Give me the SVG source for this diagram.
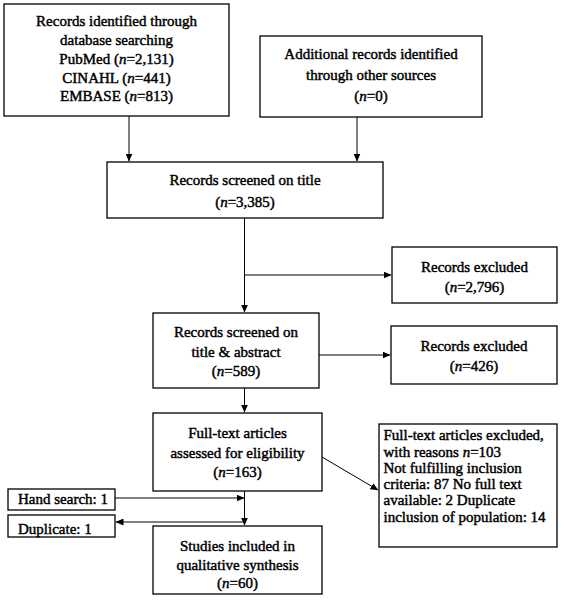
<svg xmlns="http://www.w3.org/2000/svg" width="569" height="609" viewBox="0 0 569 609">
<style>
.box{fill:#fff;stroke:#000;stroke-width:1.3}
text{font-family:"Liberation Serif","Times New Roman",serif;font-size:15px;font-weight:normal;fill:#000;stroke:#000;stroke-width:0.45}
.c{text-anchor:middle}
.i{font-style:italic}
.ln{stroke:#000;stroke-width:1;fill:none;marker-end:url(#ah)}
</style>
<defs>
<marker id="ah" markerWidth="8" markerHeight="7" refX="7.5" refY="3.5" orient="auto" markerUnits="userSpaceOnUse">
<path d="M0,0 L8,3.5 L0,7 Z" fill="#000"/>
</marker>
</defs>
<rect width="569" height="609" fill="#fff"/>
<g id="connectors">
<line class="ln" x1="129" y1="116" x2="129" y2="161"/>
<line class="ln" x1="357" y1="117" x2="357" y2="161"/>
<line class="ln" x1="244.5" y1="218" x2="244.5" y2="312"/>
<line class="ln" x1="244.5" y1="275" x2="391" y2="275"/>
<line class="ln" x1="319" y1="355" x2="390" y2="355"/>
<line class="ln" x1="244.5" y1="388" x2="244.5" y2="412"/>
<line class="ln" x1="322" y1="457" x2="378" y2="490"/>
<line class="ln" x1="244.5" y1="491" x2="244.5" y2="525"/>
<line class="ln" x1="115" y1="498" x2="244" y2="498"/>
<line class="ln" x1="244.5" y1="522" x2="116" y2="522"/>
</g>
<g id="n1">
<rect class="box" x="4" y="4" width="225" height="112"/>
<text class="c" x="116.5" y="26">Records identified through</text>
<text class="c" x="116.5" y="45">database searching</text>
<text class="c" x="116.5" y="64">PubMed (<tspan class="i">n</tspan>=2,131)</text>
<text class="c" x="116.5" y="82.5">CINAHL (<tspan class="i">n</tspan>=441)</text>
<text class="c" x="116.5" y="101">EMBASE (<tspan class="i">n</tspan>=813)</text>
</g>
<g id="n2">
<rect class="box" x="260" y="36" width="222" height="81"/>
<text class="c" x="371" y="59">Additional records identified</text>
<text class="c" x="371" y="79.5">through other sources</text>
<text class="c" x="371" y="100.5">(<tspan class="i">n</tspan>=0)</text>
</g>
<g id="n3">
<rect class="box" x="107" y="162" width="276" height="56"/>
<text class="c" x="245" y="185">Records screened on title</text>
<text class="c" x="245" y="206.5">(<tspan class="i">n</tspan>=3,385)</text>
</g>
<g id="n4">
<rect class="box" x="392" y="247" width="165" height="56"/>
<text class="c" x="474.5" y="271.5">Records excluded</text>
<text class="c" x="474.5" y="291.5">(<tspan class="i">n</tspan>=2,796)</text>
</g>
<g id="n5">
<rect class="box" x="153" y="313" width="166" height="75"/>
<text class="c" x="236" y="336.5">Records screened on</text>
<text class="c" x="236" y="356.5">title &amp; abstract</text>
<text class="c" x="236" y="375.5">(<tspan class="i">n</tspan>=589)</text>
</g>
<g id="n6">
<rect class="box" x="391" y="326" width="166" height="58"/>
<text class="c" x="474" y="351">Records excluded</text>
<text class="c" x="474" y="371">(<tspan class="i">n</tspan>=426)</text>
</g>
<g id="n7">
<rect class="box" x="153" y="413" width="169" height="78"/>
<text class="c" x="237.5" y="438">Full-text articles</text>
<text class="c" x="237.5" y="458">assessed for eligibility</text>
<text class="c" x="237.5" y="476.5">(<tspan class="i">n</tspan>=163)</text>
</g>
<g id="n8">
<rect class="box" x="153" y="526" width="169" height="68"/>
<text class="c" x="237.5" y="550.5">Studies included in</text>
<text class="c" x="237.5" y="570">qualitative synthesis</text>
<text class="c" x="237.5" y="588">(<tspan class="i">n</tspan>=60)</text>
</g>
<g id="n9">
<rect class="box" x="379" y="424" width="178" height="123"/>
<text x="383.5" y="440">Full-text articles excluded,</text>
<text x="383.5" y="456.5">with reasons <tspan class="i">n</tspan>=103</text>
<text x="383.5" y="473">Not fulfilling inclusion</text>
<text x="383.5" y="489">criteria: 87 No full text</text>
<text x="383.5" y="505">available: 2 Duplicate</text>
<text x="383.5" y="521.5">inclusion of population: 14</text>
</g>
<g id="n10">
<rect class="box" x="8" y="489" width="107" height="21"/>
<text x="18" y="503.5">Hand search: 1</text>
</g>
<g id="n11">
<rect class="box" x="8" y="515" width="107" height="22"/>
<text x="18" y="533.5">Duplicate: 1</text>
</g>
</svg>
